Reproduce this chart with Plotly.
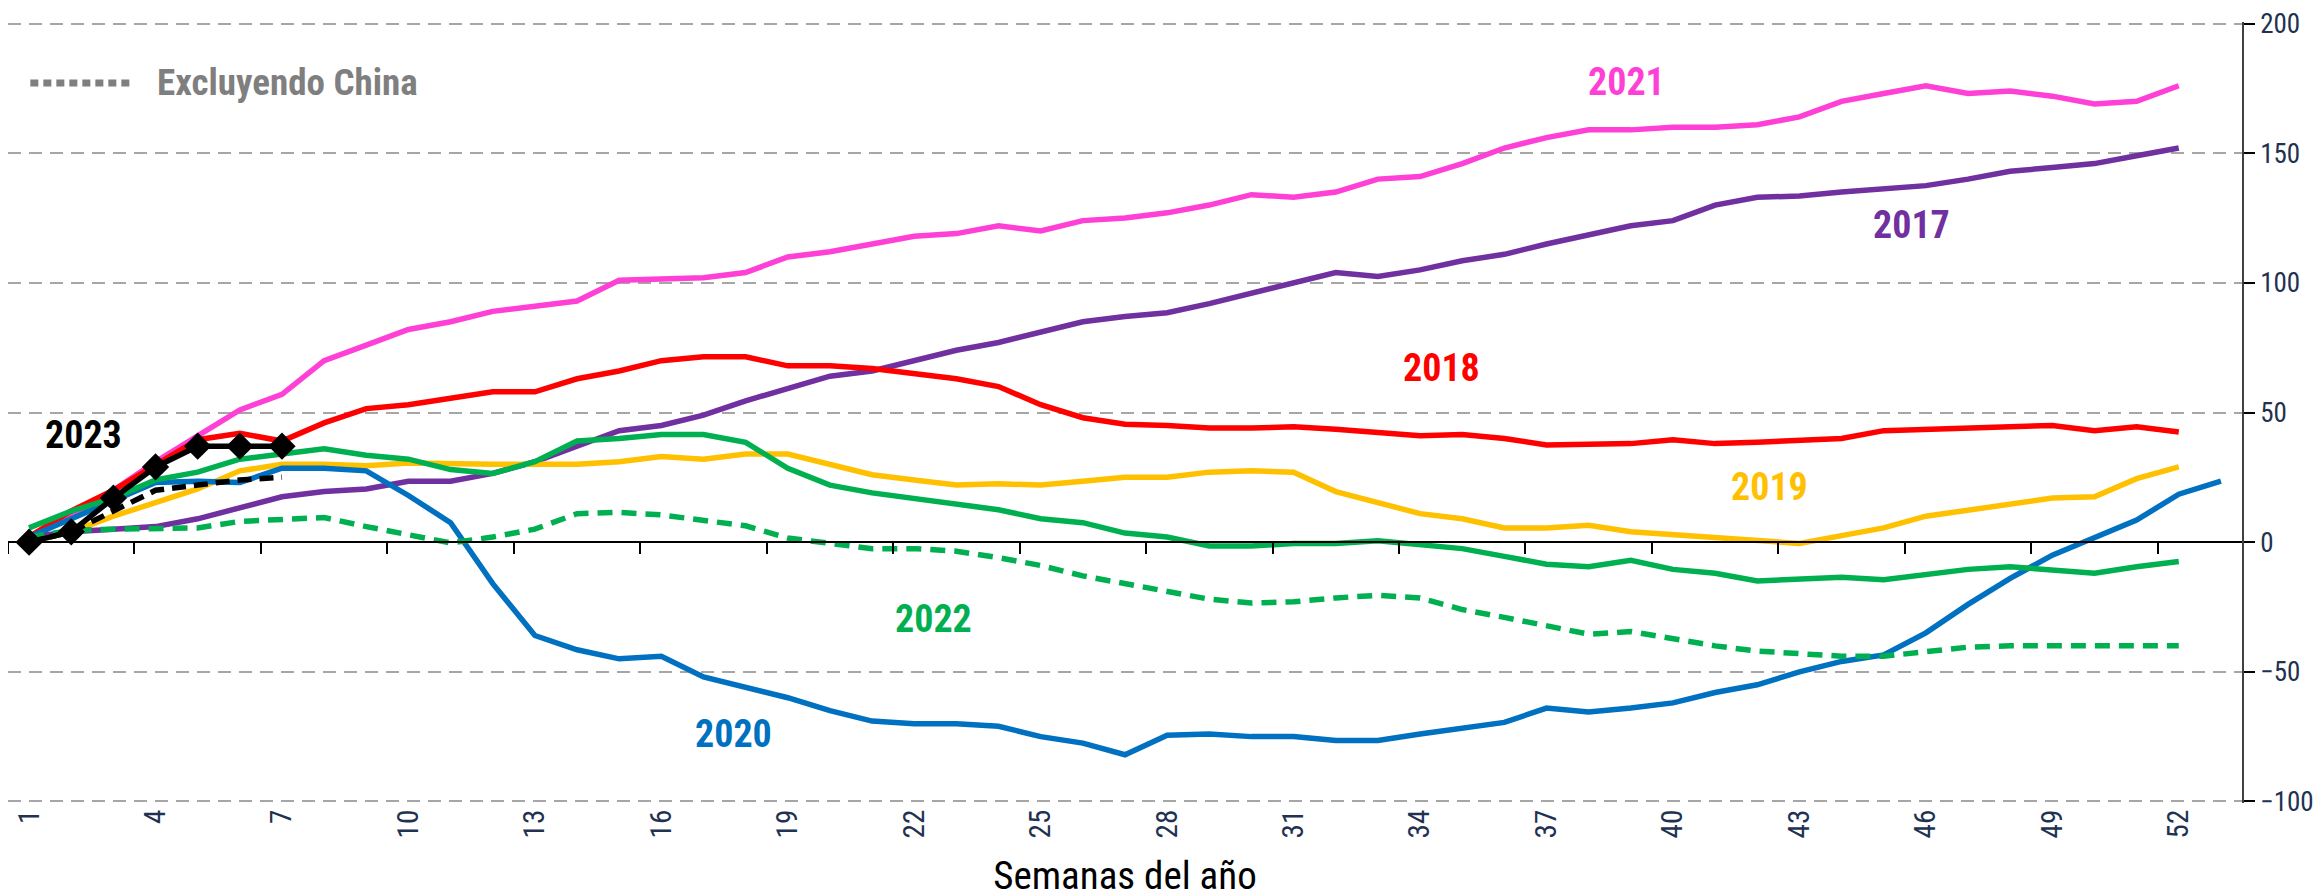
import plotly.graph_objects as go

weeks = list(range(1, 53))
weeks_2020 = list(range(1, 54))
tick_weeks = list(range(1, 53, 3))
tick_labels = [str(w) for w in tick_weeks]
y_ticks = [-100, -50, 0, 50, 100, 150, 200]

y2017 = [2, 4, 5, 6, 9, 13, 17.5, 19.5, 20.5, 23.5, 23.5, 26.5, 31, 37, 43, 45, 49, 54.5, 59, 64,
         66, 70, 74, 77, 81, 85, 87, 88.5, 92, 96, 100, 104, 102.5, 105, 108.5, 111, 115, 118.5,
         122, 124, 130, 133, 133.5, 135, 136.5, 137.5, 140, 143, 144.5, 146, 149, 152]
y2018 = [2, 12, 20, 30, 39.5, 42, 39, 46, 51.5, 53, 55.5, 58, 58, 63, 66, 70, 71.5, 71.5, 68, 68,
         67, 65, 63, 60, 53, 48, 45.5, 45, 44, 44, 44.5, 43.5, 42.5, 41, 41.5, 40, 37.5, 37.5, 38,
         39.5, 38, 38.5, 39.5, 40, 43, 43.5, 44, 44, 45, 43, 44.5, 42.5]
y2019 = [0, 4, 10, 15.5, 20.5, 27.5, 30, 30, 29.5, 30.5, 30, 30, 30, 30, 31, 33, 32, 34, 34, 30,
         26, 24, 22, 22.5, 22, 23.5, 25, 25, 27, 27.5, 27, 19.5, 15, 11, 9, 5.5, 5.5, 6.5, 4, 3,
         1.5, 0.5, -0.5, 2.5, 5.5, 10, 12.5, 15, 17, 17.5, 24.5, 29]
y2020 = [2, 9, 15.5, 23, 23.5, 23, 28.5, 28.5, 27.5, 18, 7.5, -16, -36, -41.5, -45, -44, -52, -56,
         -60, -65, -69, -70, -70, -71, -75, -77.5, -82, -74.5, -74, -75, -75, -76.5, -76.5, -74,
         -71.5, -69.5, -64, -65.5, -64, -62, -58, -55, -50, -46, -43.5, -35, -24, -14, -5, 2, 8.5,
         18.5, 23.5]
y2021 = [2, 10, 20, 31, 41, 51, 57, 70, 76, 82, 85, 89, 91, 93, 101, 101.5, 102, 104, 110, 112,
         115, 118, 119, 122, 120, 124, 125, 127, 130, 134, 133, 135, 140, 141, 146, 152, 156, 159,
         159, 160, 160, 161, 164, 170, 173, 176, 173, 174, 172, 169, 170, 176]
y2022 = [5.5, 12, 17, 24, 27, 32, 34, 36, 33.5, 32, 28, 26.5, 31, 39, 40, 41.5, 41.5, 38.5, 28.5,
         22, 19, 17, 14.5, 12.5, 9, 7.5, 3.5, 2, -1.5, -1.5, -0.5, -0.5, 0.5, -1, -2.5, -5.5, -8.5,
         -9.5, -7, -10.5, -12, -15, -14.5, -13.5, -14.5, -12.5, -10.5, -9.5, -11, -12, -9.5, -7.5]
y2022_ex_china = [2, 4.5, 5, 5.5, 5.5, 8, 9, 9.5, 6, 2.7, -0.3, 2, 5, 11, 11.5, 10.5, 8.5, 6.3,
                  1.6, -0.5, -2.5, -2.5, -3.5, -6, -9, -13, -16, -19, -22, -23.5, -23, -21.5,
                  -20.5, -21.5, -26, -29, -32, -35.5, -34.5, -37.5, -40, -42, -43, -44, -44, -42,
                  -40.5, -40, -40, -40.5, -40.5, -40]
weeks_2023 = [1, 2, 3, 4, 5, 6, 7]
y2023 = [0, 4, 17, 29, 37, 37, 37]
y2023_ex_china = [0, 4, 12, 20, 22, 24, 25]

# year labels: (text, week, value, colour)
label_text = ["2021", "2017", "2018", "2019", "2022", "2020", "2023"]
label_week = [38.9, 45.65, 34.5, 42.3, 22.45, 17.7, 2.3]
label_value = [177.5, 122.2, 67.2, 21.1, -29.6, -74.1, 41.5]
label_color = ["#FF40D6", "#7030A0", "#FF0000", "#FFC000", "#00B050", "#0070C0", "#000000"]

FONT = "Liberation Sans Narrow, Roboto Condensed, Roboto, sans-serif"
LW = 5.5

fig = go.Figure()
fig.add_trace(go.Scatter(x=weeks, y=y2021, mode="lines", line=dict(color="#FF40D6", width=LW), name="2021"))
fig.add_trace(go.Scatter(x=weeks, y=y2017, mode="lines", line=dict(color="#7030A0", width=LW), name="2017"))
fig.add_trace(go.Scatter(x=weeks, y=y2018, mode="lines", line=dict(color="#FF0000", width=LW), name="2018"))
fig.add_trace(go.Scatter(x=weeks, y=y2019, mode="lines", line=dict(color="#FFC000", width=LW), name="2019"))
fig.add_trace(go.Scatter(x=weeks_2020, y=y2020, mode="lines", line=dict(color="#0070C0", width=LW), name="2020"))
fig.add_trace(go.Scatter(x=weeks, y=y2022, mode="lines", line=dict(color="#00B050", width=LW), name="2022"))
fig.add_trace(go.Scatter(x=weeks, y=y2022_ex_china, mode="lines",
                         line=dict(color="#00B050", width=LW, dash="15px,9px"), name="2022 excl. China"))
fig.add_trace(go.Scatter(x=weeks_2023, y=y2023_ex_china, mode="lines",
                         line=dict(color="#000000", width=LW, dash="14px,8px"), name="2023 excl. China"))
fig.add_trace(go.Scatter(x=weeks_2023, y=y2023, mode="lines+markers",
                         line=dict(color="#000000", width=LW),
                         marker=dict(symbol="diamond", size=21, color="#000000"), name="2023"))
# dummy trace for the zero axis with tick marks
fig.add_trace(go.Scatter(x=[None], y=[None], xaxis="x2", showlegend=False, hoverinfo="skip"))

for t, w, v, c in zip(label_text, label_week, label_value, label_color):
    fig.add_annotation(x=w, y=v, text="<b>%s</b>" % t, showarrow=False,
                       font=dict(family=FONT, size=38, color=c), xanchor="center", yanchor="middle")

# legend key "Excluyendo China"
fig.add_shape(type="line", xref="paper", yref="paper", x0=0.010, x1=0.056, y0=0.922, y1=0.922,
              line=dict(color="#7F7F7F", width=7, dash="8px,5px"))
fig.add_annotation(xref="paper", yref="paper", x=0.066, y=0.922, text="<b>Excluyendo China</b>",
                   showarrow=False, xanchor="left", yanchor="middle",
                   font=dict(family=FONT, size=37, color="#7F7F7F"))

boundaries = [0.5 + 3 * k for k in range(18)]
y_lo, y_hi = -100.6, 200.6

fig.update_layout(
    width=2323, height=895,
    margin=dict(l=0, r=89, t=10, b=100),
    plot_bgcolor="white", paper_bgcolor="white",
    showlegend=False,
    xaxis=dict(range=[0.5, 53.5], tickvals=tick_weeks, ticktext=tick_labels, tickangle=-90,
               showgrid=False, zeroline=False, showline=False, ticks="",
               tickfont=dict(family=FONT, size=29, color="#1F3251"),
               title=dict(text="Semanas del año", standoff=24,
                          font=dict(family=FONT, size=39, color="#000000"))),
    xaxis2=dict(range=[0.5, 53.5], overlaying="x", anchor="free",
                position=(0 - y_lo) / (y_hi - y_lo), side="bottom",
                tickvals=boundaries, showticklabels=False, ticks="outside", ticklen=11,
                tickcolor="#000000", tickwidth=1.5, showline=True, linecolor="#000000", linewidth=1.5,
                showgrid=False, zeroline=False),
    yaxis=dict(range=[y_lo, y_hi], tickvals=y_ticks, side="right", showline=True, linecolor="#404040",
               linewidth=1.5, ticks="outside", ticklen=11, tickcolor="#000000", tickwidth=1.5,
               showgrid=True, gridcolor="#A6A6A6", gridwidth=2, griddash="13px,8px",
               zeroline=False, ticklabelstandoff=0, ticklabeloverflow="allow",
               tickfont=dict(family=FONT, size=27, color="#1F3251")),
)

fig.write_html("out.html")
